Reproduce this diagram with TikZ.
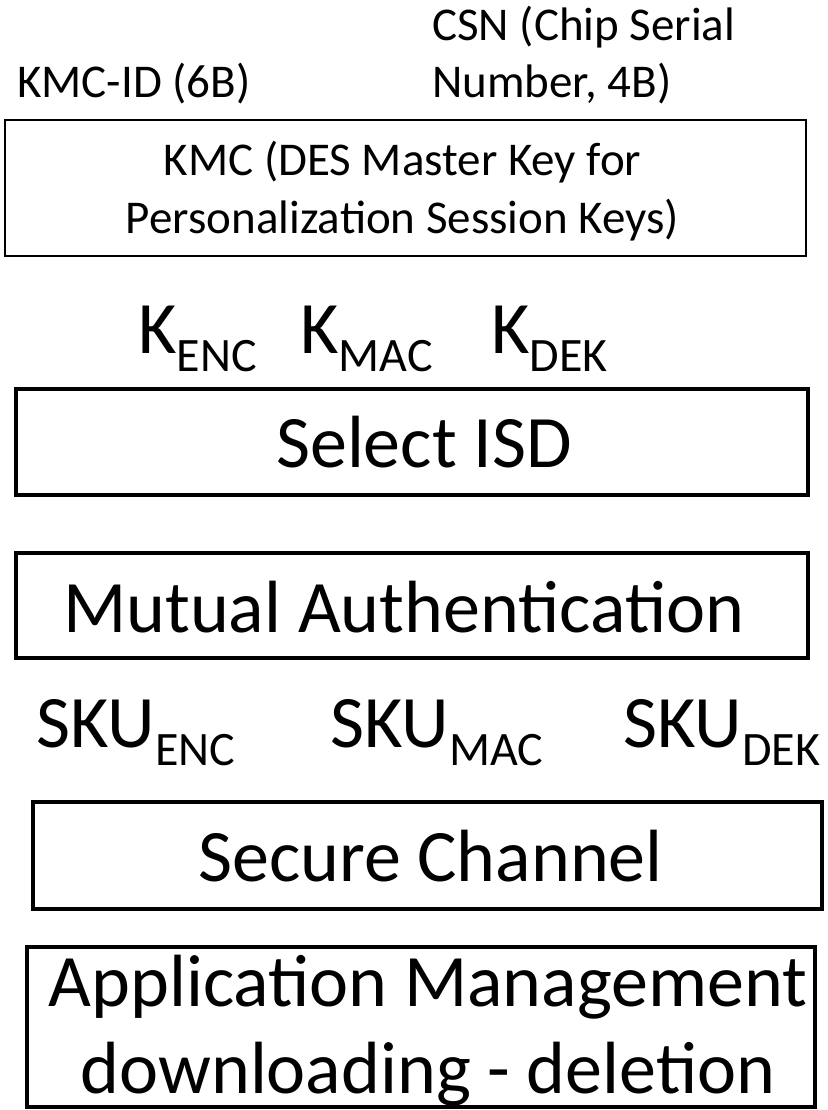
\documentclass[tikz,border=0pt]{standalone}
\usepackage{fontspec}
\setmainfont{Carlito}
\newcommand\subtxt[1]{\raisebox{-18pt}{\fontsize{48}{48}\selectfont #1}}
\begin{document}
\begin{tikzpicture}[x=1pt,y=-1pt,
  thinbox/.style={draw,line width=1.5pt,inner sep=0},
  thickbox/.style={draw,line width=4pt,inner sep=0},
  big/.style={font=\fontsize{74}{87}\selectfont},
  small/.style={font=\fontsize{47}{58}\selectfont},
  lbl/.style={inner sep=0,anchor=base west},
  ctr/.style={inner sep=0,anchor=base,align=center}]
\useasboundingbox (0,0) rectangle (827,1110);
% top labels
\node[lbl,small] (kmcid) at (17,98) {KMC-ID (6B)};
\node[lbl,small] (csn1) at (432,41) {CSN (Chip Serial};
\node[lbl,small] (csn2) at (432,98) {Number, 4B)};
% KMC box
\node[thinbox,minimum width=801,minimum height=136] (kmc) at (405.5,188) {};
\node[ctr,small] (kmct) at (402.5,233) {KMC (DES Master Key for\\Personalization Session Keys)};
% K labels
\node[lbl,big] (kenc) at (138,353) {K\subtxt{ENC}};
\node[lbl,big] (kmac) at (300,353) {K\subtxt{MAC}};
\node[lbl,big] (kdek) at (491,353) {K\subtxt{DEK}};
% Select ISD
\node[thickbox,minimum width=792,minimum height=106] (sel) at (412,442) {};
\node[lbl,big] (selt) at (276,467) {Select ISD};
% Mutual Authentication
\node[thickbox,minimum width=792,minimum height=105] (mut) at (412,605.5) {};
\node[lbl,big] (mutt) at (63,632) {Mutual Authentication};
% SKU labels
\node[lbl,big] (skuenc) at (36,747) {SKU\subtxt{ENC}};
\node[lbl,big] (skumac) at (330,747) {SKU\subtxt{MAC}};
\node[lbl,big] (skudek) at (623,747) {SKU\subtxt{DEK}};
% Secure Channel
\node[thickbox,minimum width=789,minimum height=107] (sec) at (427.5,855.5) {};
\node[lbl,big] (sect) at (198,881) {Secure Channel};
% Application Management
\node[thickbox,minimum width=788,minimum height=160] (app) at (421,1027) {};
\node[ctr,big] (appt) at (428,1093) {Application Management\\downloading - deletion};
\end{tikzpicture}
\end{document}
